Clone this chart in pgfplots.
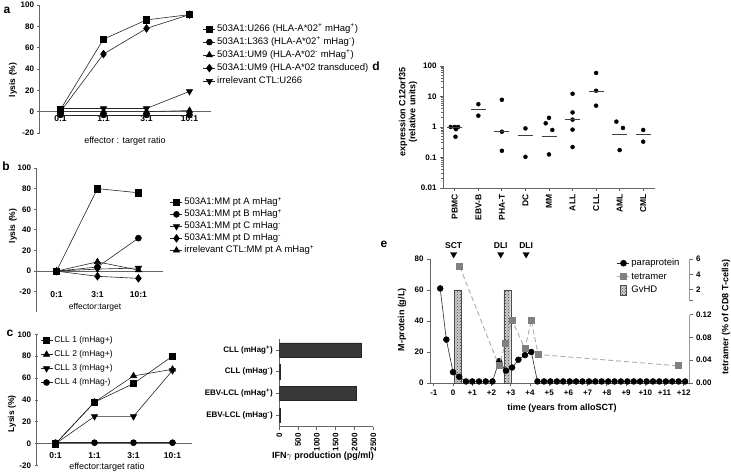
\documentclass[border=0pt]{standalone}
\usepackage{fontspec}
\setmainfont{Liberation Sans}
\usepackage{pgfplots}
\pgfplotsset{compat=1.18}
\usetikzlibrary{patterns}

\newcommand{\tfont}{\bfseries\fontsize{8}{9}\selectfont}
\newcommand{\blab}{\bfseries\fontsize{8.5}{10}\selectfont}
\newcommand{\rlab}{\fontsize{9}{10}\selectfont}
\newcommand{\su}[1]{\textsuperscript{#1}}

\pgfplotsset{
  every axis/.append style={
    scale only axis, anchor=south west,
    axis line style={line width=0.9pt, black!60},
    tick style={line width=0.9pt, black!60},
    tick align=outside, major tick length=3pt, minor tick length=2pt,
    tick label style={font=\tfont},
    /pgf/number format/assume math mode=true,
    legend cell align=left,
    legend image code/.code={\draw[mark repeat=2,mark phase=2,#1] plot coordinates {(0pt,0pt) (6pt,0pt) (12pt,0pt)};},
  },
  ln/.style={black!85, line width=0.6pt, mark options={solid, fill=black, draw=black}},
  sq/.style={ln, mark=square*, mark size=3.2pt},
  ci/.style={ln, mark=*, mark size=3pt},
  tu/.style={ln, mark=triangle*, mark size=3.6pt},
  td/.style={black!85, line width=0.6pt, mark=triangle*, mark size=3.6pt, mark options={solid, fill=black, draw=black, rotate=180}},
  di/.style={ln, mark=diamond*, mark size=3.8pt},
  lysis/.style={xmin=-0.5, axis x line=middle, axis y line=left,
     x axis line style={-}, y axis line style={-},
     hide obscured x ticks=false, hide obscured y ticks=false,
     xtick style={draw=none}, ytick={-20,0,...,100}, ymax=100,
     xticklabel style={font=\bfseries\fontsize{8.5}{9}\selectfont}},
  lleg/.style={legend style={draw=none, fill=none, inner sep=0pt,
     font=\fontsize{9.5}{11}\selectfont, row sep=1pt,
     nodes={inner sep=1.5pt, text height=7pt, text depth=2pt}}},
}

\begin{document}
\begin{tikzpicture}
\useasboundingbox (0,0) rectangle (731pt,473pt);

% ---------------- panel a ----------------
\node[font=\bfseries\fontsize{12}{12}\selectfont] at (7pt,463pt) {a};
\begin{axis}[lysis, at={(39pt,340pt)}, width=172pt, height=128pt,
  xmax=3.5, ymin=-20,
  xtick={0,1,2,3}, xticklabels={0:1,1:1,3:1,10:1},
  xticklabel style={yshift=1pt},
  lleg, legend style={at={(0.953,0.86)}, anchor=north west}]
\addplot[sq] coordinates {(0,2) (1,68) (2,86) (3,91)};
\addlegendentry{503A1:U266 (HLA-A*02\su{+} mHag\su{+})}
\addplot[ci] coordinates {(0,-3) (1,-3) (2,-3) (3,-3)};
\addlegendentry{503A1:L363 (HLA-A*02\su{+} mHag\su{-})}
\addplot[tu] coordinates {(0,0) (1,0) (2,0) (3,1)};
\addlegendentry{503A1:UM9 (HLA-A*02\su{-} mHag\su{+})}
\addplot[di] coordinates {(0,0) (1,54) (2,78) (3,91)};
\addlegendentry{503A1:UM9 (HLA-A*02 transduced)}
\addplot[td] coordinates {(0,3) (1,3) (2,3) (3,19)};
\addlegendentry{irrelevant CTL:U266}
\end{axis}
\node[rotate=90, font=\blab] at (13pt,393pt) {lysis (\%)};
\node[font=\rlab] at (125pt,332pt) {effector : target ratio};

% ---------------- panel b ----------------
\node[font=\bfseries\fontsize{12}{12}\selectfont] at (6pt,307pt) {b};
\begin{axis}[lysis, at={(36pt,160.6pt)}, width=127pt, height=144.4pt,
  xmax=2.6, ymin=-40,
  xtick={0,1,2}, xticklabels={0:1,3:1,10:1},
  xticklabel style={yshift=-15pt},
  lleg, legend style={at={(1.055,0.805)}, anchor=north west, row sep=0pt}]
\addplot[sq] coordinates {(0,0) (1,80) (2,76)};
\addlegendentry{503A1:MM pt A mHag\su{+}}
\addplot[ci] coordinates {(0,0) (1,4) (2,32)};
\addlegendentry{503A1:MM pt B mHag\su{+}}
\addplot[td] coordinates {(0,0) (1,2) (2,3)};
\addlegendentry{503A1:MM pt C mHag\su{-}}
\addplot[di] coordinates {(0,0) (1,-5) (2,-7)};
\addlegendentry{503A1:MM pt D mHag\su{-}}
\addplot[tu] coordinates {(0,0) (1,9) (2,1)};
\addlegendentry{irrelevant CTL:MM pt A mHag\su{+}}
\end{axis}
\node[rotate=90, font=\blab] at (13pt,247pt) {lysis (\%)};
\node[font=\fontsize{8.5}{10}\selectfont] at (95pt,166pt) {effector:target};

% ---------------- panel c (left) ----------------
\node[font=\bfseries\fontsize{12}{12}\selectfont] at (10pt,140pt) {c};
\begin{axis}[lysis, at={(36pt,7.3pt)}, width=156pt, height=131.4pt,
  xmax=3.5, ymin=-20,
  xtick={0,1,2,3}, xticklabels={0:1,1:1,3:1,10:1},
  xticklabel style={yshift=-4pt},
  lleg, legend style={at={(0.026,1.0)}, anchor=north west,
     font=\fontsize{8.5}{10}\selectfont, row sep=2pt}]
\addplot[sq] coordinates {(0,0) (1,38) (2,55) (3,80)};
\addlegendentry{CLL 1 (mHag+)}
\addplot[tu] coordinates {(0,0) (1,38) (2,62) (3,68)};
\addlegendentry{CLL 2 (mHag+)}
\addplot[td] coordinates {(0,0) (1,25) (2,25) (3,67)};
\addlegendentry{CLL 3 (mHag+)}
\addplot[ci] coordinates {(0,1) (1,1) (2,1) (3,1)};
\addlegendentry{CLL 4 (mHag-)}
\end{axis}
\node[rotate=90, font=\blab] at (12pt,59pt) {Lysis (\%)};
\node[font=\rlab] at (107pt,6pt) {effector:target ratio};

% ---------------- panel c (right, bars) ----------------
\begin{axis}[at={(279.3pt,46.1pt)}, width=94pt, height=87.7pt,
  xbar, bar width=0.65,
  xmin=0, xmax=2500, ymin=-0.55, ymax=3.5,
  axis x line*=bottom, axis y line*=left,
  ytick={0,1,2,3},
  yticklabels={EBV-LCL (mHag\su{-}),EBV-LCL (mHag\su{+}),CLL (mHag\su{-}),CLL (mHag\su{+})},
  yticklabel style={font=\bfseries\fontsize{8}{9}\selectfont},
  xtick={0,500,1000,1500,2000,2500},
  xticklabel style={rotate=90, anchor=east},
  /pgf/number format/1000 sep={}]
\addplot[fill=black!78, draw=black!85] coordinates {(15,0) (2040,1) (20,2) (2190,3)};
\end{axis}
\node[font=\bfseries\fontsize{9}{10}\selectfont] at (323pt,17pt) {IFN$\gamma$ production (pg/ml)};

% ---------------- panel d ----------------
\node[font=\bfseries\fontsize{12}{12}\selectfont] at (376pt,407pt) {d};
\begin{axis}[at={(443pt,285pt)}, width=212pt, height=122pt,
  ymode=log, ymin=0.01, ymax=100, xmin=-0.5, xmax=8.5,
  axis x line*=bottom, axis y line*=left,
  ytick={0.01,0.1,1,10,100}, yticklabels={0.01,0.1,1,10,100},
  minor ytick={0.02,0.03,0.04,0.05,0.06,0.07,0.08,0.09,0.2,0.3,0.4,0.5,0.6,0.7,0.8,0.9,2,3,4,5,6,7,8,9,20,30,40,50,60,70,80,90},
  xtick={0,1,2,3,4,5,6,7,8},
  xticklabels={PBMC,EBV-B,PHA-T,DC,MM,ALL,CLL,AML,CML},
  xticklabel style={rotate=90, anchor=east, font=\bfseries\fontsize{8.5}{9}\selectfont}]
\addplot[only marks, mark=*, mark size=2pt, black] coordinates {
  (-0.17,1.0) (0,1.0) (0.14,1.0) (0.05,0.85) (0.03,0.48)
  (1,5.6) (1,2.35)
  (2,7.8) (2,0.70) (2,0.166)
  (3,0.9) (3,0.105)
  (3.86,1.32) (4,2.0) (4.14,0.8) (4,0.126)
  (5,12.3) (5,3.0) (5,1.74) (5,0.82) (5,0.22)
  (6,59) (6,15.4) (6,5.0)
  (6.86,1.5) (7.14,0.93) (7,0.175)
  (8,0.8) (8,0.33)};
\addplot[only marks, mark=-, mark size=7.5pt, black!75, line width=0.9pt] coordinates {
  (0,1.0) (1,3.9) (2,0.7) (3,0.52) (4,0.48) (5,1.75) (6,15) (7,0.56) (8,0.57)};
\end{axis}
\node[rotate=90, font=\bfseries\fontsize{9}{10}\selectfont] at (403pt,361pt) {expression C12orf35};
\node[rotate=90, font=\bfseries\fontsize{9}{10}\selectfont] at (413pt,361pt) {(relative units)};

% ---------------- panel e ----------------
\node[font=\bfseries\fontsize{12}{12}\selectfont] at (384pt,229pt) {e};
\begin{axis}[at={(430pt,90pt)}, width=259.5pt, height=124pt,
  xmin=-1.2, xmax=12.3, ymin=0, ymax=80,
  axis x line*=bottom, axis y line*=left, clip=false,
  xtick={-1,0,1,2,3,4,5,6,7,8,9,10,11,12},
  xticklabels={-1,0,+1,+2,+3,+4,+5,+6,+7,+8,+9,+10,+11,+12},
  ytick={0,20,40,60,80}]
\addplot[ybar, bar width=0.36, draw=black!70, fill=gray!40,
  postaction={pattern=crosshatch dots, pattern color=black!75}]
  coordinates {(0.26,60) (2.82,60)};
\addplot[ci, mark size=2.9pt] coordinates {
  (-0.67,61) (-0.35,28) (0,7) (0.32,4) (0.67,1) (1,1) (1.35,1) (1.7,1) (2.05,1)
  (2.39,14) (2.75,8) (3.07,10) (3.4,15) (3.74,18) (4.07,20) (4.39,1)
  (4.73,1) (5.06,1) (5.4,1) (5.73,1) (6.07,1) (6.4,1) (6.73,1) (7.07,1) (7.4,1)
  (7.73,1) (8.07,1) (8.4,1) (8.73,1) (9.07,1) (9.4,1) (9.73,1) (10.07,1) (10.4,1)
  (10.73,1) (11.07,1) (11.4,1) (11.73,1) (12.07,1)};
\addplot[only marks, black, mark=triangle*, mark size=3.6pt,
  mark options={rotate=180, fill=black},
  nodes near coords, point meta=explicit symbolic,
  nodes near coords style={anchor=south, yshift=2.5pt, font=\bfseries\fontsize{8.5}{9}\selectfont}]
  coordinates {(0.03,83)[SCT] (2.48,83)[DLI] (3.8,83)[DLI]};
\end{axis}
\begin{axis}[at={(430pt,90pt)}, width=259.5pt, height=124pt,
  xmin=-1.2, xmax=12.3,
  axis x line=none, axis y line*=right,
  y coord trafo/.code={\pgfmathparse{#1<0.3 ? #1*371 : 50.6+5*#1}},
  y coord inv trafo/.code={\pgfmathparse{#1<47 ? #1/371 : (#1-50.6)/5}},
  ymin=0, ymax=6,
  ytick={0,0.04,0.08,0.12,0.58,2,4,6},
  yticklabels={0.00,0.04,0.08,0.12,,2,4,6},
  y axis line style={draw=none},
  legend style={at={(0.72,1.016)}, anchor=north west, draw=none, fill=none, inner sep=0pt,
     font=\fontsize{9.5}{11}\selectfont, row sep=1.5pt,
     nodes={inner sep=1.5pt, text height=7pt, text depth=2pt}}]
\draw[line width=0.9pt, black!60] (rel axis cs:1,0) -- (rel axis cs:1,0.5524);
\draw[line width=0.9pt, black!60] (rel axis cs:1,0.6638) -- (rel axis cs:1,1);
\addlegendimage{ci}
\addlegendentry{paraprotein}
\addplot[gray!65, line width=0.9pt, dash pattern=on 5pt off 3pt, mark=square*, mark size=3pt,
  mark options={solid, fill=black!50, draw=black!50}]
  coordinates {(0.35,5) (2.39,0.03) (2.72,0.07) (3.07,0.11) (3.74,0.06) (4.07,0.11) (4.42,0.05) (11.74,0.03)};
\addlegendentry{tetramer}
\addlegendimage{legend image code/.code={\draw[draw=black!70, fill=gray!40, postaction={pattern=crosshatch dots, pattern color=black!75}] (3pt,-5pt) rectangle (9pt,5pt);}}
\addlegendentry{GvHD}
\end{axis}
\node[rotate=90, font=\bfseries\fontsize{9}{10}\selectfont] at (402pt,153pt) {M-protein (g/L)};
\node[rotate=90, font=\bfseries\fontsize{9}{10}\selectfont] at (726pt,156pt) {tetramer (\% of CD8 T-cells)};
\node[font=\bfseries\fontsize{9}{10}\selectfont] at (562pt,65pt) {time (years from alloSCT)};
\end{tikzpicture}
\end{document}
